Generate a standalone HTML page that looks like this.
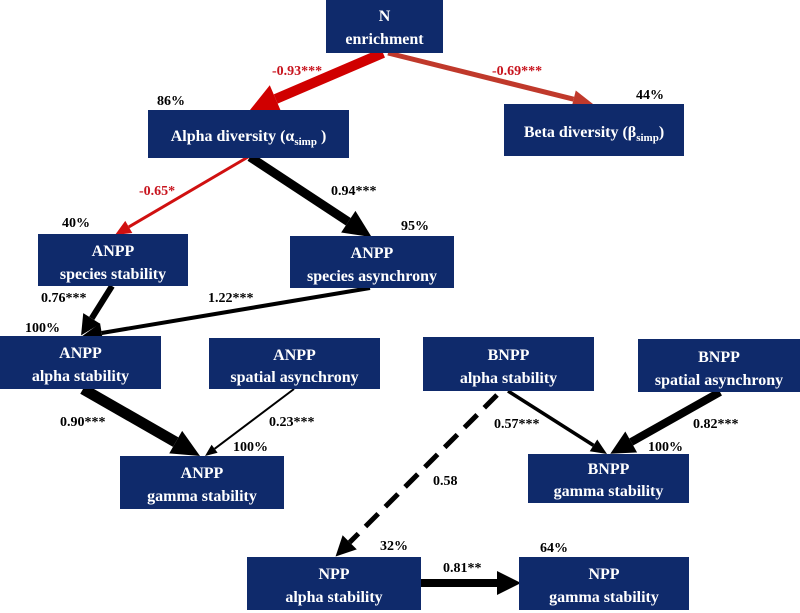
<!DOCTYPE html>
<html><head><meta charset="utf-8"><style>
html,body{margin:0;padding:0;background:#fff;}
svg{display:block;}
.b{fill:#0f2a6b;}
.t{fill:#fff;font-family:"Liberation Serif",serif;font-weight:bold;font-size:16px;text-anchor:middle;}
.l{font-family:"Liberation Serif",serif;font-weight:bold;font-size:14px;fill:#000;}
.r{fill:#c8141e;}
</style></head><body>
<svg width="800" height="613" viewBox="0 0 800 613" xmlns="http://www.w3.org/2000/svg">
<defs>
<marker id="rb" markerUnits="userSpaceOnUse" markerWidth="60" markerHeight="60" refX="0" refY="15" orient="auto" overflow="visible"><path d="M0,0 L28,15 L0,30 z" fill="#d00000"/></marker>
<marker id="br" markerUnits="userSpaceOnUse" markerWidth="60" markerHeight="60" refX="0" refY="9" orient="auto" overflow="visible"><path d="M0,0 L20,9 L0,18 z" fill="#c0392b"/></marker>
<marker id="rs" markerUnits="userSpaceOnUse" markerWidth="60" markerHeight="60" refX="0" refY="7" orient="auto" overflow="visible"><path d="M0,0 L16,7 L0,14 z" fill="#d01010"/></marker>
<marker id="k28" markerUnits="userSpaceOnUse" markerWidth="60" markerHeight="60" refX="0" refY="13" orient="auto" overflow="visible"><path d="M0,0 L28,13 L0,26 z" fill="#000"/></marker>
<marker id="k24" markerUnits="userSpaceOnUse" markerWidth="60" markerHeight="60" refX="0" refY="12" orient="auto" overflow="visible"><path d="M0,0 L24,12 L0,24 z" fill="#000"/></marker>
<marker id="k20" markerUnits="userSpaceOnUse" markerWidth="60" markerHeight="60" refX="0" refY="10" orient="auto" overflow="visible"><path d="M0,0 L20,10 L0,20 z" fill="#000"/></marker>
<marker id="k16" markerUnits="userSpaceOnUse" markerWidth="60" markerHeight="60" refX="0" refY="7" orient="auto" overflow="visible"><path d="M0,0 L16,7 L0,14 z" fill="#000"/></marker>
<marker id="k12" markerUnits="userSpaceOnUse" markerWidth="60" markerHeight="60" refX="0" refY="5" orient="auto" overflow="visible"><path d="M0,0 L12,5 L0,10 z" fill="#000"/></marker>
</defs>

<!-- arrows -->
<line x1="383" y1="53" x2="275.7" y2="99" stroke="#d00000" stroke-width="10" marker-end="url(#rb)"/>
<line x1="388" y1="53" x2="573.6" y2="99.2" stroke="#c0392b" stroke-width="5" marker-end="url(#br)"/>
<line x1="248" y1="157" x2="128.8" y2="226.9" stroke="#d01010" stroke-width="3" marker-end="url(#rs)"/>
<line x1="250" y1="157" x2="348.3" y2="221.7" stroke="#000" stroke-width="9" marker-end="url(#k28)"/>
<line x1="112" y1="286" x2="91.7" y2="318.4" stroke="#000" stroke-width="6" marker-end="url(#k20)"/>
<line x1="370" y1="288" x2="101.7" y2="333" stroke="#000" stroke-width="4" marker-end="url(#k20)"/>
<line x1="83" y1="389" x2="175.7" y2="442.1" stroke="#000" stroke-width="11" marker-end="url(#k28)"/>
<line x1="294" y1="389" x2="214.6" y2="448.8" stroke="#000" stroke-width="2" marker-end="url(#k12)"/>
<line x1="508" y1="391" x2="593.5" y2="445.4" stroke="#000" stroke-width="3.5" marker-end="url(#k16)"/>
<line x1="720" y1="392" x2="631.2" y2="442" stroke="#000" stroke-width="8" marker-end="url(#k24)"/>
<line x1="497" y1="395" x2="349.7" y2="542.3" stroke="#000" stroke-width="5" stroke-dasharray="18 10" marker-end="url(#k20)"/>
<line x1="421" y1="583" x2="497" y2="583" stroke="#000" stroke-width="8" marker-end="url(#k24)"/>

<!-- boxes -->
<rect class="b" x="326" y="0" width="117" height="53"/>
<text class="t" x="384.5" y="21">N</text><text class="t" x="384.5" y="44">enrichment</text>

<rect class="b" x="148" y="110" width="201" height="48"/>
<text class="t" x="248.5" y="141">Alpha diversity (α<tspan font-size="11" dy="4">simp</tspan><tspan dy="-4"> )</tspan></text>

<rect class="b" x="504" y="104" width="180" height="52"/>
<text class="t" x="594" y="137">Beta  diversity (β<tspan font-size="11" dy="4">simp</tspan><tspan dy="-4">)</tspan></text>

<rect class="b" x="38" y="234" width="150" height="52"/>
<text class="t" x="113" y="256">ANPP</text><text class="t" x="113" y="279">species stability</text>

<rect class="b" x="290" y="236" width="164" height="52"/>
<text class="t" x="372" y="258">ANPP</text><text class="t" x="372" y="281">species asynchrony</text>

<rect class="b" x="0" y="336" width="161" height="53"/>
<text class="t" x="80.5" y="358">ANPP</text><text class="t" x="80.5" y="381">alpha  stability</text>

<rect class="b" x="209" y="338" width="171" height="51"/>
<text class="t" x="294.5" y="360">ANPP</text><text class="t" x="294.5" y="382">spatial asynchrony</text>

<rect class="b" x="423" y="337" width="171" height="54"/>
<text class="t" x="508.5" y="360">BNPP</text><text class="t" x="508.5" y="383">alpha stability</text>

<rect class="b" x="638" y="339" width="162" height="53"/>
<text class="t" x="719" y="362">BNPP</text><text class="t" x="719" y="385">spatial asynchrony</text>

<rect class="b" x="120" y="456" width="164" height="53"/>
<text class="t" x="202" y="478">ANPP</text><text class="t" x="202" y="501">gamma stability</text>

<rect class="b" x="528" y="454" width="161" height="49"/>
<text class="t" x="608.5" y="474">BNPP</text><text class="t" x="608.5" y="496">gamma stability</text>

<rect class="b" x="247" y="557" width="174" height="53"/>
<text class="t" x="334" y="579">NPP</text><text class="t" x="334" y="602">alpha stability</text>

<rect class="b" x="519" y="557" width="170" height="53"/>
<text class="t" x="604" y="579">NPP</text><text class="t" x="604" y="602">gamma stability</text>

<!-- labels -->
<text class="l r" x="272" y="75">-0.93***</text>
<text class="l r" x="492" y="75">-0.69***</text>
<text class="l" x="157" y="105">86%</text>
<text class="l" x="636" y="99">44%</text>
<text class="l r" x="139" y="195">-0.65*</text>
<text class="l" x="331" y="195">0.94***</text>
<text class="l" x="62" y="227">40%</text>
<text class="l" x="401" y="230">95%</text>
<text class="l" x="41" y="302">0.76***</text>
<text class="l" x="208" y="302">1.22***</text>
<text class="l" x="25" y="332">100%</text>
<text class="l" x="60" y="426">0.90***</text>
<text class="l" x="269" y="426">0.23***</text>
<text class="l" x="233" y="451">100%</text>
<text class="l" x="494" y="428">0.57***</text>
<text class="l" x="693" y="428">0.82***</text>
<text class="l" x="648" y="451">100%</text>
<text class="l" x="433" y="485">0.58</text>
<text class="l" x="380" y="550">32%</text>
<text class="l" x="540" y="552">64%</text>
<text class="l" x="443" y="572">0.81**</text>
</svg>
</body></html>
